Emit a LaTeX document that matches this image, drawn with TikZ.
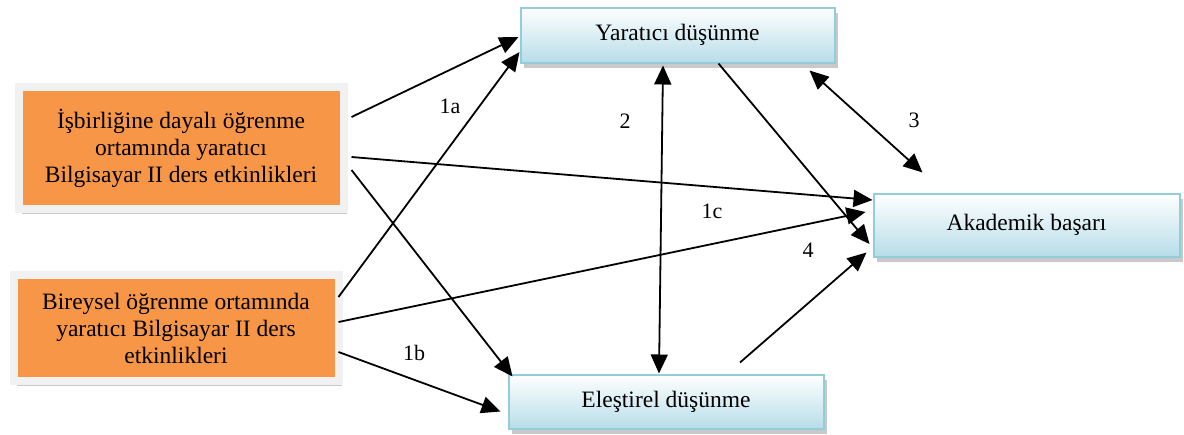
\documentclass[tikz,border=0pt]{standalone}
\usepackage{fontspec}
\setmainfont{Liberation Serif}
\usetikzlibrary{shadows,arrows.meta,calc}
\definecolor{orangefill}{HTML}{F79646}
\definecolor{framegray}{HTML}{F1F1F1}
\definecolor{blueline}{HTML}{92CDDC}
\definecolor{bluebot}{HTML}{B7DDE8}
\begin{document}
\begin{tikzpicture}[x=1pt,y=-1pt,
  txt/.style={font=\fontsize{23.5pt}{27pt}\selectfont},
  srcbox/.style={txt,draw=framegray,line width=8pt,fill=orangefill,align=center,inner sep=0pt,
    drop shadow={shadow xshift=3pt,shadow yshift=-5pt,opacity=0.3,fill=black!70}},
  bluebox/.style={txt,draw=blueline,line width=2pt,top color=white,bottom color=bluebot,inner sep=0pt,
    drop shadow={shadow xshift=3pt,shadow yshift=-5pt,opacity=0.3,fill=black!70}},
  conn/.style={line width=1.8pt,-{Triangle[length=19pt,width=17pt]}},
  biconn/.style={line width=1.8pt,{Triangle[length=19pt,width=17pt]}-{Triangle[length=19pt,width=17pt]}},
  lbl/.style={font=\fontsize{22pt}{26pt}\selectfont,inner sep=0pt}]
\useasboundingbox (0,0) rectangle (1184,434);

\node[srcbox,minimum width=325,minimum height=122] (b1) at (181,148)
  {İşbirliğine dayalı öğrenme\\ortamında yaratıcı\\Bilgisayar II ders etkinlikleri};
\node[srcbox,minimum width=325,minimum height=106] (b2) at (176,328)
  {Bireysel öğrenme ortamında\\yaratıcı Bilgisayar II ders\\etkinlikleri};
\node[bluebox,minimum width=314,minimum height=55] (yar) at (677.5,35) {Yaratıcı düşünme};
\node[bluebox,minimum width=315,minimum height=54] (ele) at (666,401.5) {Eleştirel düşünme};
\node[bluebox,minimum width=306,minimum height=63] (aka) at (1026.5,225) {Akademik başarı};

% from box 1
\draw[conn] ($(b1.east)+(4,-31)$) -- ($(yar.west)+(-1,2)$);
\draw[conn] ($(b1.east)+(4,9)$) -- ($(aka.west)+(0,-25)$);
\draw[conn] ($(b1.east)+(4,22)$) -- ($(ele.north west)+(5,3)$);
% from box 2
\draw[conn] ($(b2.east)+(-4,-31)$) -- ($(yar.west)+(0,17)$);
\draw[conn] ($(b2.east)+(-4,-6)$) -- ($(aka.west)+(-7,-13)$);
\draw[conn] ($(b2.east)+(-4,24)$) -- ($(ele.west)+(-7,10)$);
% mediators
\draw[biconn] ($(yar.south)+(-14.5,2)$) -- ($(ele.north)+(-7,0)$);
\draw[conn] ($(yar.south)+(41,0)$) -- ($(aka.west)+(-3,19)$);
\draw[biconn] ($(yar.south east)+(-26,7)$) -- ($(aka.north west)+(50,-20)$);
\draw[conn] ($(ele.north)+(74,-11)$) -- ($(aka.south west)+(-6,-5)$);

\node[lbl] (l1a) at (450,106) {1a};
\node[lbl] (l2) at (625,121) {2};
\node[lbl] (l3) at (914,120) {3};
\node[lbl] (l1c) at (712,211) {1c};
\node[lbl] (l4) at (808,250) {4};
\node[lbl] (l1b) at (414,353) {1b};
\end{tikzpicture}
\end{document}
